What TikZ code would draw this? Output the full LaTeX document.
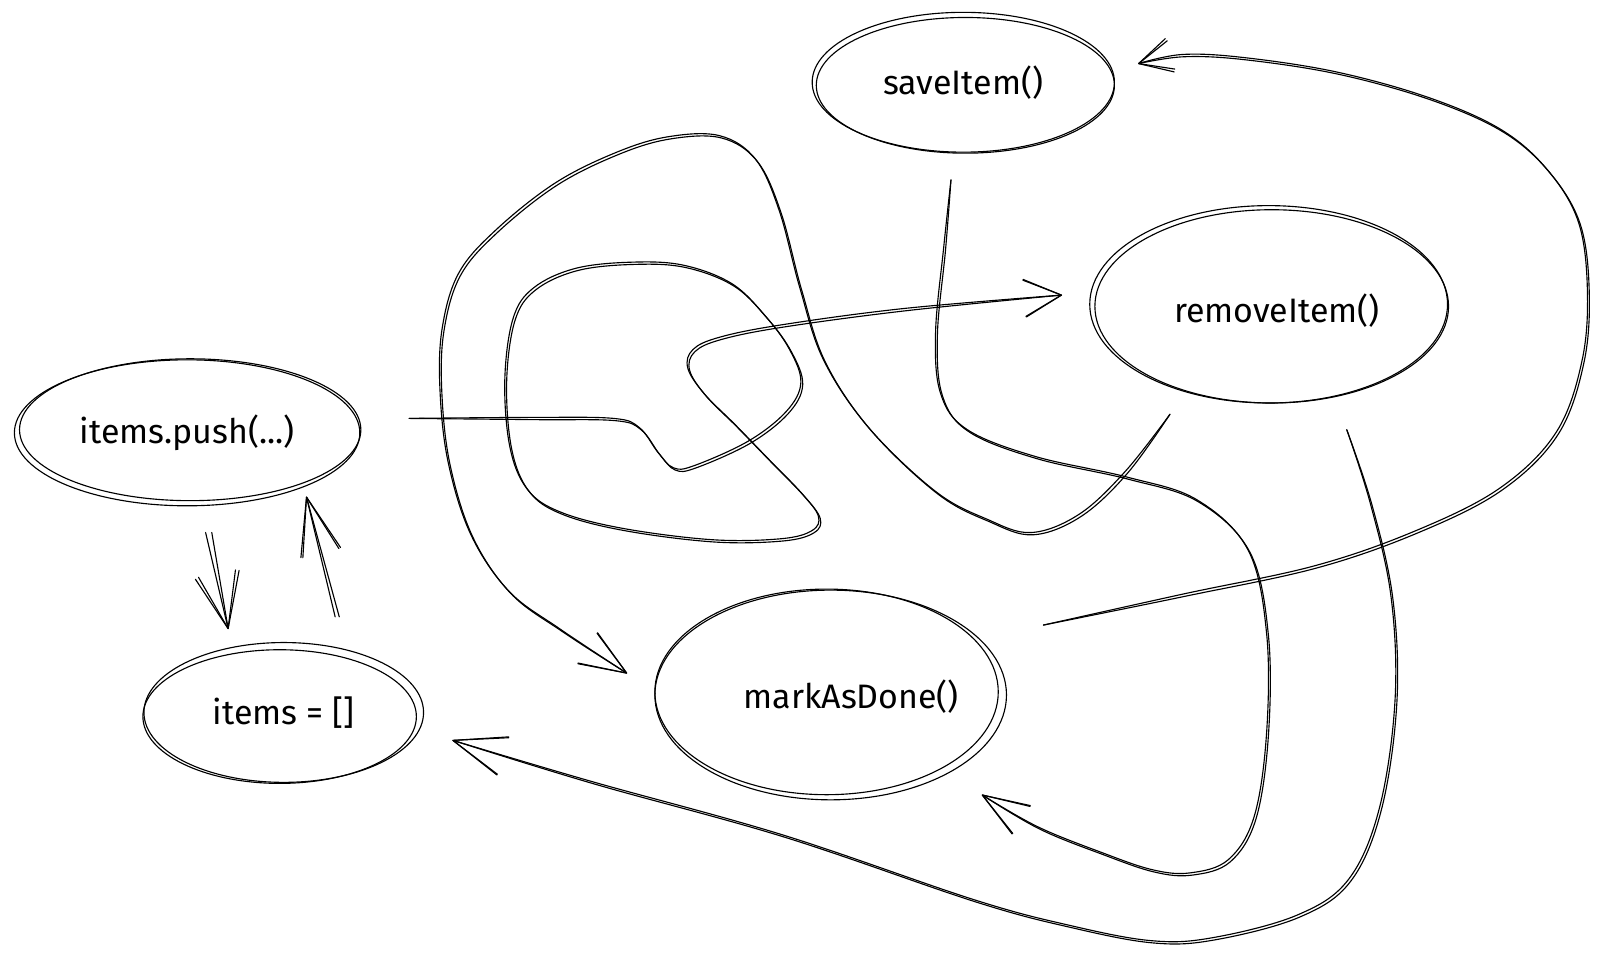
\documentclass[tikz,border=0pt]{standalone}
\usepackage{fontspec}
\setmainfont{Fira Sans}
\usetikzlibrary{arrows.meta,shapes.geometric,calc}
\begin{document}
\begin{tikzpicture}[x=1pt,y=-1pt,
  every node/.style={font=\fontsize{33}{38}\selectfont},
  ink/.style={line width=1.1pt, line cap=round, line join=round},
  bubble/.style={ellipse, draw, ink, inner sep=0pt},
  barb/.style 2 args={-{Straight Barb[length=#1pt,width=#2pt,round]}},
  sketch/.style={ink, smooth, tension=0.6}]
\useasboundingbox (0,0) rectangle (1568,928);
\fill[white] (0,0) rectangle (1568,928);

% ---- function bubbles ----
\node[bubble, minimum width=336pt, minimum height=142pt] (push) at (182,421) {items.push(...)};
\node[bubble, minimum width=272pt, minimum height=136pt] (arr) at (276,693) {items = []};
\node[bubble, minimum width=294pt, minimum height=136pt] (save) at (937,80) {saveItem()};
\node[bubble, minimum width=348pt, minimum height=192pt,
      label={[xshift=8pt,yshift=-6pt]center:removeItem()}] (remove) at (1234,296) {};
\node[bubble, minimum width=342pt, minimum height=204pt,
      label={[xshift=20pt,yshift=-2pt]center:markAsDone()}] (mark) at (808,676) {};

% second pencil stroke round each bubble
\draw[ink] ([shift={(3,-3)}]push.center) ellipse [x radius=166pt, y radius=69pt];
\draw[ink] ([shift={(-4,4)}]arr.center) ellipse [x radius=133pt, y radius=65pt];
\draw[ink] ([shift={(2,3)}]save.center) ellipse [x radius=145pt, y radius=66pt];
\draw[ink] ([shift={(3,2)}]remove.center) ellipse [x radius=172pt, y radius=94pt];
\draw[ink] ([shift={(-4,-3)}]mark.center) ellipse [x radius=167pt, y radius=100pt];

% ---- connector ends ----
\coordinate (a0) at ([shift={(18,97)}]push.center);
\coordinate (a1) at ([shift={(-54,-81)}]arr.center);
\coordinate (b0) at ([shift={(54,-93)}]arr.center);
\coordinate (b1) at ([shift={(116,62)}]push.center);
\coordinate (c0) at ([shift={(216,-14)}]push.center);
\coordinate (c1) at ([shift={(-201,-9)}]remove.center);
\coordinate (d0) at ([shift={(-96,107)}]remove.center);
\coordinate (d1) at ([shift={(-198,-21)}]mark.center);
\coordinate (e0) at ([shift={(-12,95)}]save.center);
\coordinate (e1) at ([shift={(147,97)}]mark.center);
\coordinate (f0) at ([shift={(207,-68)}]mark.center);
\coordinate (f1) at ([shift={(170,-18)}]save.center);
\coordinate (g0) at ([shift={(76,122)}]remove.center);
\coordinate (g1) at ([shift={(164,27)}]arr.center);

\foreach \d in {0,1}{
\begin{scope}[shift={(\d*1.8,\d*2.2)}]
  % items.push(...) <-> items = []
  \draw[ink, barb={54}{40}] ([shift={(\d*6,0)}]a0) -- (a1);
  \draw[ink, barb={56}{38}] ([shift={(\d*-4,0)}]b0) -- (b1);
  % items.push(...) -> removeItem()
  \draw[sketch, barb={36}{36}] plot coordinates {(c0) (520,406) (597,407) (622,416)
    (640,440) (655,455) (675,453) (728,429) (765,400) (779,372) (768,340)
    (745,308) (712,276) (665,258) (615,255) (560,261) (519,280) (499,310)
    (491,370) (496,435) (513,476) (545,498) (606,514) (693,525) (760,524)
    (790,516) (796,502) (780,480) (748,447) (715,413) (685,383) (669,358)
    (674,340) (700,328) (760,316) (880,300) (c1)};
  % removeItem() -> markAsDone()
  \draw[sketch, barb={45}{35}] plot coordinates {(d0) (1095,458) (1050,500)
    (1003,518) (960,505) (910,478) (845,416) (801,350) (778,280) (758,205)
    (735,155) (700,132) (650,133) (600,148) (540,178) (482,224) (446,266)
    (430,320) (428,380) (436,450) (458,520) (495,575) (545,612) (d1)};
  % saveItem() -> markAsDone()
  \draw[sketch, barb={45}{32}] plot coordinates {(e0) (918,240) (910,324)
    (915,383) (941,418) (1007,444) (1096,464) (1164,486) (1214,535)
    (1232,616) (1232,713) (1220,794) (1195,836) (1158,849) (1121,846)
    (1071,829) (1009,804) (e1)};
  % markAsDone() -> saveItem()
  \draw[sketch, barb={32}{31}] plot coordinates {(f0) (1150,578) (1280,550)
    (1380,515) (1460,474) (1514,420) (1539,350) (1544,280) (1535,215)
    (1505,165) (1460,126) (1390,95) (1300,70) (1210,56) (1150,53) (f1)};
  % removeItem() -> items = []
  \draw[sketch, barb={51}{38}] plot coordinates {(g0) (1333,490) (1353,580)
    (1357,680) (1342,785) (1312,855) (1262,890) (1180,912) (1120,915)
    (1040,900) (947,875) (761,812) (575,760) (g1)};
\end{scope}
}
\end{tikzpicture}
\end{document}
